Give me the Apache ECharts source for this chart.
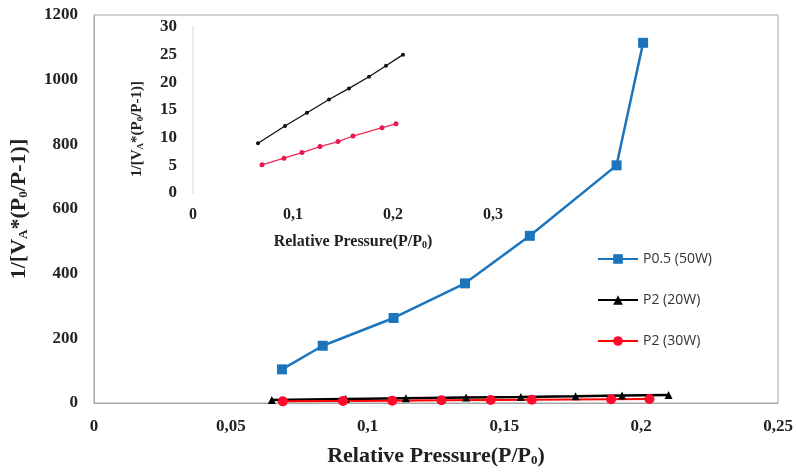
<!DOCTYPE html>
<html>
<head>
<meta charset="utf-8">
<script src="https://cdn.jsdelivr.net/npm/echarts@6/dist/echarts.min.js"></script>
<style>html,body{margin:0;padding:0;background:#fff}#c{width:796px;height:472px}</style>
</head>
<body>
<div id="c"></div>
<script>
// Main chart data
const blueX = [0.0687, 0.0836, 0.1095, 0.1356, 0.1593, 0.191, 0.2007];
const blueY = [104, 177, 263, 370, 517, 735, 1114];
const blackX = [0.065, 0.092, 0.114, 0.136, 0.156, 0.176, 0.193, 0.21];
const blackY = [9.0, 12.1, 14.5, 16.9, 18.9, 21.0, 23.0, 25.0];
const redX = [0.069, 0.091, 0.109, 0.127, 0.145, 0.160, 0.189, 0.203];
const redY = [5.1, 6.3, 7.3, 8.4, 9.3, 10.3, 11.8, 12.5];
const seriesNames = ['P0.5 (50W)', 'P2 (20W)', 'P2 (30W)'];
const mainXTicks = {min: 0, max: 0.25, interval: 0.05};
const mainYTicks = {min: 0, max: 1200, interval: 200};
const insetXTicks = {min: 0, max: 0.3, interval: 0.1};
const insetYTicks = {min: 0, max: 30, interval: 5};

const pairs = (xs, ys) => xs.map((x, i) => [x, ys[i]]);
const comma = v => String(+v.toFixed(3)).replace('.', ',');
const plain = v => String(v);
const serif = 'Liberation Serif';
const nameRich = {
  sub: {fontFamily: serif, fontWeight: 'bold', fontSize: 13, verticalAlign: 'bottom', padding: [9, 0, 0, 0]}
};

const chart = echarts.init(document.getElementById('c'), null, {renderer: 'canvas'});
chart.setOption({
  animation: false,
  backgroundColor: '#fff',
  grid: [
    {left: 92, top: 15, right: 18, bottom: 65, show: true, borderColor: '#a6a6a6', borderWidth: 1, backgroundColor: 'transparent'},
    {left: 193, top: 27, width: 300, height: 166, show: false}
  ],
  legend: {
    data: seriesNames,
    orient: 'vertical',
    left: 592, top: 247,
    itemWidth: 40, itemHeight: 12, itemGap: 27,
    textStyle: {fontFamily: 'Open Sans', fontSize: 14, color: '#333'}
  },
  xAxis: [
    {
      type: 'value', gridIndex: 0, ...mainXTicks,
      axisLine: {show: true, lineStyle: {color: '#a6a6a6'}},
      axisTick: {show: false}, splitLine: {show: false},
      axisLabel: {formatter: comma, fontFamily: serif, fontWeight: 'bold', fontSize: 17, color: '#222', margin: 15},
      name: 'Relative Pressure(P/P{sub|0})',
      nameLocation: 'middle', nameGap: 42,
      nameTextStyle: {fontFamily: serif, fontWeight: 'bold', fontSize: 22, color: '#222', rich: nameRich}
    },
    {
      type: 'value', gridIndex: 1, ...insetXTicks,
      axisLine: {show: false}, axisTick: {show: false}, splitLine: {show: false},
      axisLabel: {formatter: comma, fontFamily: serif, fontWeight: 'bold', fontSize: 16, color: '#222', margin: 14},
      name: 'Relative Pressure(P/P{sub|0})',
      nameLocation: 'middle', nameGap: 40,
      nameTextStyle: {fontFamily: serif, fontWeight: 'bold', fontSize: 16, color: '#222', padding: [0, 0, 0, 20],
        rich: {sub: {fontFamily: serif, fontWeight: 'bold', fontSize: 10, verticalAlign: 'bottom', padding: [7, 0, 0, 0]}}}
    }
  ],
  yAxis: [
    {
      type: 'value', gridIndex: 0, ...mainYTicks,
      axisLine: {show: true, lineStyle: {color: '#a6a6a6'}},
      axisTick: {show: false}, splitLine: {show: false},
      axisLabel: {formatter: plain, fontFamily: serif, fontWeight: 'bold', fontSize: 17, color: '#222', margin: 16},
      name: '1/[V{sub|A}*(P{sub|0}/P-1)]',
      nameLocation: 'middle', nameGap: 64,
      nameTextStyle: {fontFamily: serif, fontWeight: 'bold', fontSize: 22, color: '#222', rich: nameRich}
    },
    {
      type: 'value', gridIndex: 1, ...insetYTicks,
      axisLine: {show: true, lineStyle: {color: '#ececec', width: 2}},
      axisTick: {show: false}, splitLine: {show: false},
      axisLabel: {formatter: plain, fontFamily: serif, fontWeight: 'bold', fontSize: 17, color: '#222', margin: 16},
      name: '1/[V{sub|A}*(P{sub|0}/P-1)]',
      nameLocation: 'middle', nameGap: 48,
      nameTextStyle: {fontFamily: serif, fontWeight: 'bold', fontSize: 15, color: '#222', padding: [0, 38, 0, 0],
        rich: {sub: {fontFamily: serif, fontWeight: 'bold', fontSize: 9, verticalAlign: 'bottom', padding: [6, 0, 0, 0]}}}
    }
  ],
  series: [
    {
      name: seriesNames[0], type: 'line', xAxisIndex: 0, yAxisIndex: 0,
      data: pairs(blueX, blueY),
      symbol: 'rect', symbolSize: 10,
      lineStyle: {color: '#1c75bc', width: 2.5}, itemStyle: {color: '#1c75bc'}
    },
    {
      name: seriesNames[1], type: 'line', xAxisIndex: 0, yAxisIndex: 0,
      data: pairs(blackX, blackY),
      symbol: 'triangle', symbolSize: 8,
      lineStyle: {color: '#000', width: 2.5}, itemStyle: {color: '#000'}
    },
    {
      name: seriesNames[2], type: 'line', xAxisIndex: 0, yAxisIndex: 0,
      data: pairs(redX, redY),
      symbol: 'circle', symbolSize: 10,
      lineStyle: {color: '#ff0000', width: 2}, itemStyle: {color: '#ff0a2a'}
    },
    {
      name: 'inset 20W', type: 'line', xAxisIndex: 1, yAxisIndex: 1,
      data: pairs(blackX, blackY),
      symbol: 'circle', symbolSize: 4,
      lineStyle: {color: '#111', width: 1.3}, itemStyle: {color: '#111'}
    },
    {
      name: 'inset 30W', type: 'line', xAxisIndex: 1, yAxisIndex: 1,
      data: pairs(redX, redY),
      symbol: 'circle', symbolSize: 5,
      lineStyle: {color: '#ee2a5a', width: 1.3}, itemStyle: {color: '#e8194e'}
    }
  ]
});
</script>
</body>
</html>
